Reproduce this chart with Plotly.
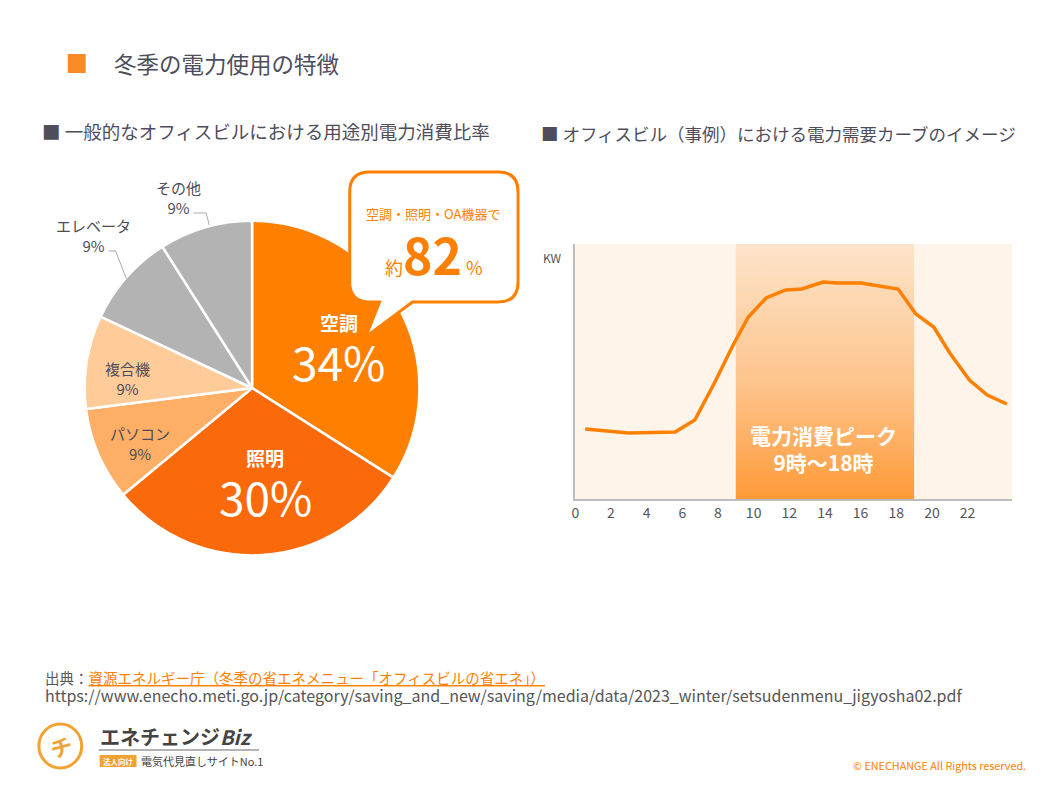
import plotly.graph_objects as go

W, H = 1058, 794

# ---- data ----
pie_labels = ["空調", "照明", "パソコン", "複合機", "エレベータ", "その他"]
pie_values = [34, 30, 9, 9, 9, 9]
pie_colors = ["#FF8000", "#FA690A", "#FFAE66", "#FFCB99", "#B3B3B3", "#B3B3B3"]

hours = [0.55, 3.0, 5.6, 6.7, 7.8, 8.85, 9.7, 10.7, 11.8, 12.7, 13.9, 14.7,
         16.0, 18.1, 19.1, 20.1, 21.0, 22.1, 23.1, 24.2]
demand = [70, 66, 67, 79, 116, 154, 182, 201, 209, 210, 217, 216,
          216, 210, 185, 172, 146, 119, 104, 95]
x_ticks = [0, 2, 4, 6, 8, 10, 12, 14, 16, 18, 20, 22]
peak_start, peak_end = 9, 19
y_max = 255

FONT = "Noto Sans CJK JP"
DARK = "#4D4D5C"
ORANGE = "#FF8000"


def px(x):
    return x / W


def py(y):
    return 1 - y / H


fig = go.Figure()

# pie
cx, cy, rad = 249, 388, 168
fig.add_trace(go.Pie(
    labels=pie_labels, values=pie_values, sort=False, direction="clockwise",
    rotation=0, textinfo="none", hoverinfo="label+percent",
    marker=dict(colors=pie_colors, line=dict(color="white", width=2.5)),
    domain=dict(x=[px(cx - rad), px(cx + rad)], y=[py(cy + rad), py(cy - rad)]),
    showlegend=False,
))

# peak band (gradient)
fig.add_trace(go.Scatter(
    x=[peak_start, peak_end, peak_end, peak_start, peak_start],
    y=[0, 0, y_max, y_max, 0], mode="lines", fill="toself",
    line=dict(width=0, color="rgba(0,0,0,0)"),
    fillgradient=dict(type="vertical",
                      colorscale=[[0, "#FF9A38"], [0.45, "#FDC48C"], [1, "#FDE4CA"]]),
    hoverinfo="skip", showlegend=False, xaxis="x", yaxis="y",
))

# demand curve
fig.add_trace(go.Scatter(
    x=hours, y=demand, mode="lines", line=dict(color=ORANGE, width=3.5),
    showlegend=False, xaxis="x", yaxis="y",
))

fig.update_layout(
    width=W, height=H, margin=dict(l=0, r=0, t=0, b=0),
    paper_bgcolor="white", plot_bgcolor="#FEF4E9",
    font=dict(family=FONT, color=DARK),
    xaxis=dict(domain=[px(573.5), px(1012)], range=[0, 24.5], tickvals=x_ticks,
               showgrid=False, zeroline=False, showline=True, linecolor="#BDBDBD",
               linewidth=2, ticks="", tickfont=dict(size=14, color="#555555")),
    yaxis=dict(domain=[py(499), py(244)], range=[0, y_max], showgrid=False,
               zeroline=False, showline=True, linecolor="#BDBDBD", linewidth=2,
               showticklabels=False, ticks=""),
)

shapes = []
# title square
shapes.append(dict(type="rect", xref="paper", yref="paper", x0=px(64), x1=px(82),
                   y0=py(73), y1=py(54), fillcolor="#F98A28", line=dict(width=0)))


def path_from(points_cmds):
    out = []
    for c in points_cmds:
        if isinstance(c, str):
            out.append(c)
        else:
            out.append(f"{px(c[0]):.5f},{py(c[1]):.5f}")
    return " ".join(out)


L, R, T, B, r = 347, 516, 172, 302, 20
callout = path_from([
    "M", (L + r, T), "L", (R - r, T), "Q", (R, T), (R, T + r),
    "L", (R, B - r), "Q", (R, B), (R - r, B),
    "L", (410, B), "L", (363, 337), "L", (377, B),
    "L", (L + r, B), "Q", (L, B), (L, B - r),
    "L", (L, T + r), "Q", (L, T), (L + r, T), "Z",
])
shapes.append(dict(type="path", xref="paper", yref="paper", path=callout,
                   fillcolor="white", line=dict(color=ORANGE, width=3), layer="above"))

# leader lines
for pts in ([(105, 251), (112, 251), (123, 279)], [(190, 213), (203, 213), (206, 225)]):
    p = path_from(["M", pts[0], "L", pts[1], "L", pts[2]])
    shapes.append(dict(type="path", xref="paper", yref="paper", path=p,
                       line=dict(color="#AAAAAA", width=1)))

# logo
shapes.append(dict(type="circle", xref="paper", yref="paper", x0=px(35), x1=px(78),
                   y0=py(768), y1=py(724), line=dict(color="#F2A233", width=3)))
shapes.append(dict(type="line", xref="paper", yref="paper", x0=px(95), x1=px(256),
                   y0=py(750), y1=py(750), line=dict(color="#9A9A9A", width=1.5)))
shapes.append(dict(type="rect", xref="paper", yref="paper", x0=px(96), x1=px(133),
                   y0=py(767), y1=py(755), fillcolor="#F2A233", line=dict(width=0)))

fig.update_layout(shapes=shapes)

ann = []


def text(x, y, s, size, color=DARK, xanchor="center", yanchor="middle", family=FONT, **kw):
    ann.append(dict(x=px(x), y=py(y), xref="paper", yref="paper", text=s, showarrow=False,
                    xanchor=xanchor, yanchor=yanchor,
                    font=dict(size=size, color=color, family=family), **kw))


text(108, 63, "冬季の電力使用の特徴", 22.5, xanchor="left")
text(36, 131, "■ 一般的なオフィスビルにおける用途別電力消費比率", 18.5, xanchor="left")
text(537, 133, "■ オフィスビル（事例）における電力需要カーブのイメージ", 17.5, xanchor="left")

# pie inside labels
text(336, 322, "<b>空調</b>", 19, "white")
text(336, 361, "34%", 46, "white")
text(262, 458, "<b>照明</b>", 19, "white")
text(262, 496, "30%", 46, "white")
# pie small labels
text(137, 443, "パソコン<br>9%", 15, align="center")
text(124, 378, "複合機<br>9%", 15, align="center")
text(90, 236, "エレベータ<br>9%", 15, align="center")
text(175, 197, "その他<br>9%", 15, align="center")

# callout text
text(431, 213, "空調・照明・OA機器で", 13, ORANGE)
text(432, 253, "<span style='font-size:18px'>約</span><b>82</b><span style='font-size:18px'> %</span>",
     50, ORANGE)

# line chart labels
text(551, 257, "KW", 12, "#555555")
text(823, 448, "<b>電力消費ピーク<br>9時〜18時</b>", 21, "white", align="center")

# footer
text(39, 686.5, "<span style='font-size:14.5px'>出典：<span style='color:#FF8000'><u>資源エネルギー庁（冬季の省エネメニュー「オフィスビルの省エネ」）</u></span></span>"
     "<br><span style='font-size:16px'>https://www.enecho.meti.go.jp/category/saving_and_new/saving/media/data/2023_winter/setsudenmenu_jigyosha02.pdf</span>",
     13.5, "#555555", xanchor="left", align="left")
text(1028, 765, "© ENECHANGE All Rights reserved.", 10.8, ORANGE, xanchor="right")

# logo texts
text(57, 746, "<b>チ</b>", 22, "#F2A233", textangle=-15)
text(94, 736, "<b>エネチェンジ<i>Biz</i></b>", 20, "#444444", xanchor="left")
text(114.5, 761, "<b>法人向け</b>", 7.5, "white")
text(136, 761, "電気代見直しサイトNo.1", 11, "#444444", xanchor="left")

fig.update_layout(annotations=ann)

fig.write_html("out.html", config={"displayModeBar": False},
               post_script="document.body.style.margin='0';")
